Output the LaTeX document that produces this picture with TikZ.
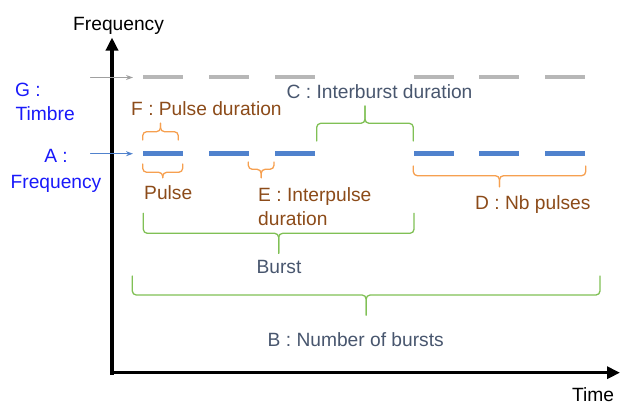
\documentclass[tikz,border=0pt]{standalone}
\usepackage{fontspec}
\setmainfont{Liberation Sans}
\usetikzlibrary{arrows.meta}
\definecolor{labblue}{RGB}{25,25,250}
\definecolor{pulseblue}{RGB}{80,130,205}
\definecolor{dashgray}{RGB}{183,183,183}
\definecolor{arrgray}{RGB}{160,160,160}
\definecolor{braceorange}{RGB}{246,160,80}
\definecolor{txtbrown}{RGB}{140,75,25}
\definecolor{bracegreen}{RGB}{128,192,85}
\definecolor{txtslate}{RGB}{72,86,110}
\begin{document}
\begin{tikzpicture}[x=1pt, y=-1pt, font=\fontsize{19.2}{23}\selectfont, line join=round, line cap=round,
    every node/.style={inner sep=0pt},
    axis/.style={line width=3.5pt, line cap=butt, -{Triangle[length=13pt,width=12pt]}},
    graydash/.style={dashgray, line width=4pt, line cap=butt},
    bluedash/.style={pulseblue, line width=5pt, line cap=butt},
    pointer/.style={line width=1pt, -{Stealth[length=7pt,width=5pt]}},
    curl/.style={line width=1.3pt, rounded corners=4pt}]
    \def\curly#1#2#3#4#5#6{% colour, x left, x right, y ends, y middle, y tip
        \pgfmathsetmacro\xc{(#2+#3)/2}
        \draw[curl, #1] (#2,#4) |- (\xc,#5) -- (\xc,#6);
        \draw[curl, #1] (#3,#4) |- (\xc,#5) -- (\xc,#6);
    }
    \useasboundingbox (0,0) rectangle (621,405);
    % axes
    \draw[axis] (112,374.5)--(112,37.5);
    \draw[axis] (110,372.7)--(620,372.7);
    \path
    node (freq) at (73,30)[anchor=base west]{Frequency}
    node (time) at (572,401)[anchor=base west]{Time};
    % pulses
    \foreach \x in {143,209,275,414,479,545}{
        \draw[graydash] (\x,76.5)--++(39.5,0);
        \draw[bluedash] (\x,153.7)--++(39.5,0);
    }
    \coordinate (gtail) at (90.5,77.5);
    \coordinate (ghead) at (133,77.5);
    \coordinate (atail) at (90.5,153.7);
    \coordinate (ahead) at (133,153.7);
    \draw[pointer, arrgray] (gtail)--(ghead);
    \draw[pointer, pulseblue] (atail)--(ahead);
    % braces
    \curly{braceorange}{142.7}{178.3}{140}{131.7}{123.3}
    \curly{braceorange}{142.7}{182.7}{164}{172.3}{177.7}
    \curly{braceorange}{248.3}{274}{162}{169.3}{177.7}
    \curly{braceorange}{413.3}{585.7}{166}{175.7}{186.7}
    \curly{bracegreen}{316.7}{413.3}{141}{123.3}{106}
    \curly{bracegreen}{143.3}{414}{213.3}{233.3}{253.3}
    \curly{bracegreen}{132.3}{600}{276}{295}{315}
    % labels
    \path
    node[labblue] (gtop) at (15,96.7)[anchor=base west]{G :}
    node[labblue] (gbot) at (15.5,120)[anchor=base west]{Timbre}
    node[labblue] (atop) at (56,162.7)[anchor=base]{A :}
    node[labblue] (abot) at (56,188)[anchor=base]{Frequency}
    node[txtbrown] (ftxt) at (131,115)[anchor=base west]{F : Pulse duration}
    node[txtbrown] (ptxt) at (144,199)[anchor=base west]{Pulse}
    node[txtbrown] (etop) at (258,201.7)[anchor=base west]{E : Interpulse}
    node[txtbrown] (ebot) at (258,225)[anchor=base west]{duration}
    node[txtbrown] (dtxt) at (475,209.3)[anchor=base west]{D : Nb pulses}
    node[txtslate] (ctxt) at (286.5,98.3)[anchor=base west]{C : Interburst duration}
    node[txtslate] (btxt) at (279,273.3)[anchor=base]{Burst}
    node[txtslate] (ntxt) at (267.5,346.7)[anchor=base west]{B : Number of bursts};
\end{tikzpicture}
\end{document}
